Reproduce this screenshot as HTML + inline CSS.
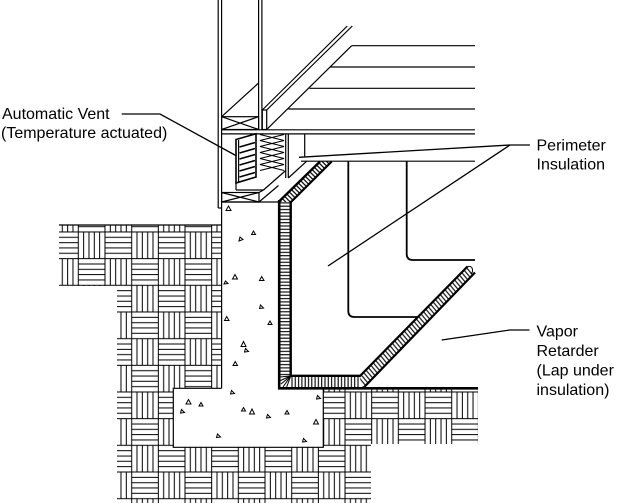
<!DOCTYPE html>
<html><head><meta charset="utf-8"><style>
html,body{margin:0;padding:0;background:#fff;}
svg{display:block;}
text{font-family:"Liberation Sans",Arial,sans-serif;font-size:16px;fill:#000;}
</style></head><body>
<svg width="622" height="503" viewBox="0 0 622 503" xmlns="http://www.w3.org/2000/svg">
<defs>
<pattern id="earth" x="51.65" y="205.3" width="53.34" height="53.34" patternUnits="userSpaceOnUse">
<path d="M0,0V53.34M26.67,0V53.34M53.34,0V53.34M0,0H53.34M0,26.67H53.34M0,53.34H53.34M5.33,0V26.67M10.67,0V26.67M16,0V26.67M21.33,0V26.67M32,26.67V53.34M37.33,26.67V53.34M42.67,26.67V53.34M48,26.67V53.34M26.67,5.33H53.34M26.67,10.67H53.34M26.67,16H53.34M26.67,21.33H53.34M0,32H26.67M0,37.33H26.67M0,42.67H26.67M0,48H26.67" stroke="#000" stroke-width="1" fill="none"/>
</pattern>
<pattern id="hh" width="6" height="3.3" patternUnits="userSpaceOnUse"><line x1="0" y1="1.6" x2="6" y2="1.6" stroke="#000" stroke-width="1.1"/></pattern>
<pattern id="vv" width="3.3" height="6" patternUnits="userSpaceOnUse"><line x1="1.6" y1="0" x2="1.6" y2="6" stroke="#000" stroke-width="1.1"/></pattern>
<pattern id="dd" width="3.2" height="6" patternUnits="userSpaceOnUse" patternTransform="rotate(-45)"><line x1="1.6" y1="0" x2="1.6" y2="6" stroke="#000" stroke-width="1.2"/></pattern>
<pattern id="dd2" width="3.4" height="6" patternUnits="userSpaceOnUse" patternTransform="rotate(-40)"><line x1="1.7" y1="0" x2="1.7" y2="6" stroke="#000" stroke-width="1.1"/></pattern>
</defs>

<!-- Earth -->
<path d="M59,225 H221.6 V388.3 H173.3 V447.3 H323.3 V388.3 H478 V444 H371 V503 H117 V286 H59 Z" fill="url(#earth)"/>
<line x1="59" y1="225" x2="221.6" y2="225" stroke="#000" stroke-width="1.2"/>

<!-- Concrete wall and footing outlines -->
<g stroke="#000" stroke-width="1.2" fill="none">
<line x1="221.6" y1="0" x2="221.6" y2="388.3"/>
<line x1="218.2" y1="0" x2="218.2" y2="208"/>
<line x1="218.2" y1="208" x2="221.6" y2="208"/>
<path d="M221.6,388.3 H173.3 V447.3 H323.3 V388.3"/>
<line x1="221.6" y1="202" x2="278.5" y2="202"/>
</g>

<!-- Upper wall -->
<g stroke="#000" stroke-width="1.2" fill="none">
<line x1="258.6" y1="0" x2="258.6" y2="129.5"/>
<line x1="261.9" y1="0" x2="261.9" y2="129.5"/>
<rect x="221.6" y="116.7" width="37" height="12.8"/>
<path d="M221.6,116.7 L258.6,129.5 M258.6,116.7 L221.6,129.5"/>
<line x1="221.6" y1="116.7" x2="258.6" y2="83"/>
<!-- floor -->
<line x1="221.6" y1="129.8" x2="475" y2="129.8"/>
<line x1="221.6" y1="133.9" x2="475" y2="133.9"/>
<rect x="262.3" y="110" width="4.4" height="19.5"/>
<line x1="262.3" y1="110" x2="347.3" y2="26"/>
<line x1="266.7" y1="110" x2="352.3" y2="26"/>
<line x1="266.7" y1="129.5" x2="351.7" y2="45.7"/>
<line x1="351.7" y1="45.7" x2="475" y2="45.7"/>
<line x1="330.4" y1="67" x2="475" y2="67"/>
<line x1="309.4" y1="88.3" x2="475" y2="88.3"/>
<line x1="288.4" y1="109" x2="475" y2="109"/>
</g>

<!-- Under floor: vent, batt, rim, sill -->
<g stroke="#000" fill="none">
<polygon points="236,139.5 256,133.8 256,177 236,183" stroke-width="1.6" fill="#fff"/>
<line x1="238.6" y1="140" x2="238.6" y2="182" stroke-width="1.2"/>
<g stroke-width="1.6">
<line x1="239.5" y1="147" x2="255" y2="142.5"/>
<line x1="239.5" y1="153" x2="255" y2="148.5"/>
<line x1="239.5" y1="159" x2="255" y2="154.5"/>
<line x1="239.5" y1="165" x2="255" y2="160.5"/>
<line x1="239.5" y1="171" x2="255" y2="166.5"/>
<line x1="239.5" y1="177" x2="255" y2="172.5"/>
</g>
<g stroke-width="1.1">
<polyline points="260,134.5 284,140.5 260,146.5 284,152.5 260,158.5 284,164.5 260,170.5"/>
<polyline points="284,134.5 260,140.5 284,146.5 260,152.5 284,158.5 260,164.5 284,170.5"/>
</g>
<g stroke-width="1.2">
<line x1="285.7" y1="134" x2="285.7" y2="178"/>
<line x1="288.3" y1="134" x2="288.3" y2="178"/>
<line x1="304.7" y1="134" x2="304.7" y2="157"/>
<line x1="301" y1="161.2" x2="475" y2="161.2"/>
<line x1="288.3" y1="178" x2="306.7" y2="161.2"/>
<line x1="236" y1="183" x2="236" y2="190"/>
<rect x="221.6" y="192.5" width="37.4" height="9.5"/>
<path d="M221.6,192.5 L259,202 M259,192.5 L221.6,202"/>
<line x1="236" y1="190" x2="263.5" y2="190"/>
<line x1="263.5" y1="190" x2="285.7" y2="170.5"/>
<line x1="259" y1="192.5" x2="263.5" y2="190"/>
<line x1="259" y1="202" x2="278.5" y2="185.5"/>
<line x1="236" y1="183" x2="256" y2="177"/>
</g>
</g>

<!-- Crawlspace lines -->
<g stroke="#000" stroke-width="1.8" fill="none">
<path d="M348.3,161.2 V311 Q348.3,317 354.3,317 H418"/>
<path d="M406.7,161.2 V254 Q406.7,260 412.7,260 H475"/>
</g>

<!-- Insulation: top diagonal band -->
<polygon points="278.5,202 320,161.5 331.7,161.5 291,202" fill="url(#dd)"/>
<line x1="278.5" y1="202" x2="320" y2="161.5" stroke="#000" stroke-width="2.4"/>
<line x1="291" y1="202" x2="331.7" y2="161.5" stroke="#000" stroke-width="2.2"/>
<!-- vertical band -->
<rect x="279" y="202" width="12" height="173.5" fill="url(#hh)"/>
<line x1="279.2" y1="200" x2="279.2" y2="389" stroke="#000" stroke-width="2.6"/>
<line x1="290.7" y1="201" x2="290.7" y2="376" stroke="#000" stroke-width="2.4"/>
<!-- bottom band -->
<rect x="291" y="376" width="69" height="12" fill="url(#vv)"/>
<line x1="290" y1="375.8" x2="360" y2="375.8" stroke="#000" stroke-width="2.4"/>
<g stroke="#000" stroke-width="1">
<line x1="290.7" y1="376" x2="280" y2="377"/>
<line x1="290.7" y1="376" x2="280.5" y2="380.5"/>
<line x1="290.7" y1="376" x2="281" y2="384"/>
<line x1="290.7" y1="376" x2="283" y2="387"/>
<line x1="290.7" y1="376" x2="286.5" y2="387.5"/>
</g>
<!-- lower diagonal band -->
<polygon points="359.5,377 467.5,267 475,273 363,388.5" fill="url(#dd2)"/>
<line x1="359.5" y1="376.5" x2="467.5" y2="266.5" stroke="#000" stroke-width="2.2"/>
<line x1="363" y1="388.3" x2="475" y2="272.5" stroke="#000" stroke-width="2.2"/>
<path d="M467.5,266.5 q5,-1 5,4 q0,3 -2,3" stroke="#000" stroke-width="1" fill="none"/>
<!-- vapor retarder line -->
<line x1="278" y1="388.3" x2="478" y2="388.3" stroke="#000" stroke-width="2.6"/>

<!-- Aggregate triangles -->
<g stroke="#000" stroke-width="1" fill="none">
<polygon points="226,210.5 231,210.5 228.5,206"/>
<polygon points="251.5,234.5 255.5,234.5 253.5,231"/>
<polygon points="239,241 243,239.5 240,237" />
<polygon points="232.5,279 237.5,279 235,274.5"/>
<polygon points="224,284 228,283.5 225.5,281"/>
<polygon points="259.5,280.5 264,280.5 261.7,276.5"/>
<polygon points="259.5,308.5 263.5,308 260.5,305"/>
<polygon points="224.5,320.5 229,320.5 226.7,316.5"/>
<polygon points="268,324.5 272,324.5 270,321"/>
<polygon points="241,346.5 246,346.5 243.5,341.5"/>
<polygon points="244.5,352 248.5,351.5 245.5,348.5"/>
<polygon points="233,365.5 237.5,365.5 235.2,361.5"/>
<polygon points="230.5,394 234.5,393.5 231.5,390.5"/>
<polygon points="186,404 191,404 188.5,399.5"/>
<polygon points="199,406 203,406 201,402.5"/>
<polygon points="180.5,413 184.5,412.5 181.5,409.5"/>
<polygon points="241.5,411 245.5,411 243.5,407.5"/>
<polygon points="249.5,414 254.5,414 252,409"/>
<polygon points="266.5,418 270.5,417.5 267.5,414.5"/>
<polygon points="285,414 289,414 287,410.5"/>
<polygon points="316.5,399 320.5,398.5 317.5,395.5"/>
<polygon points="313.5,424 318.5,424 316,419.5"/>
<polygon points="216.5,437.5 220.5,437 217.5,434"/>
<polygon points="302.5,442 306.5,441.5 303.5,438.5"/>
</g>

<!-- Leader lines -->
<g stroke="#000" stroke-width="1.3" fill="none">
<polyline points="121.7,114 160,114 236.7,156"/>
<polyline points="530,145 510,145 299,157.3"/>
<line x1="510" y1="145" x2="328" y2="266"/>
<polyline points="529.5,330 510,330 441.7,340"/>
</g>

<!-- Labels -->
<text x="2" y="119">Automatic Vent</text>
<text x="1" y="138">(Temperature actuated)</text>
<text x="536.5" y="150.5">Perimeter</text>
<text x="536.5" y="169.5">Insulation</text>
<text x="536.5" y="336.5">Vapor</text>
<text x="536.5" y="356">Retarder</text>
<text x="536.5" y="375.5">(Lap under</text>
<text x="536.5" y="395">insulation)</text>
</svg>
</body></html>
